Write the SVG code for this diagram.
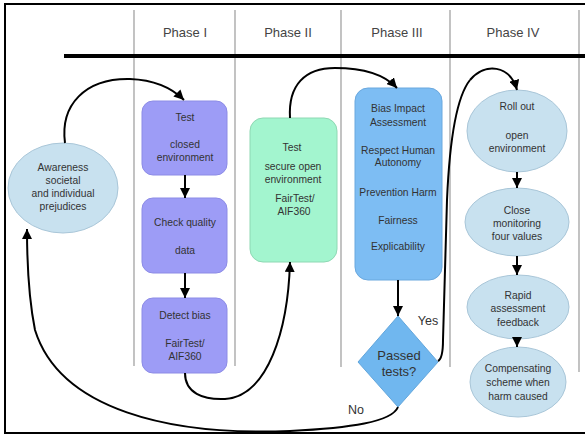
<svg xmlns="http://www.w3.org/2000/svg" width="585" height="439" viewBox="0 0 585 439">
<defs>
<style>
.lane{stroke:#9a9a9a;stroke-width:1.2;fill:none}
.hdr{font-family:"Liberation Sans",Arial,sans-serif;font-size:13px;fill:#444;text-anchor:middle}
.t{font-family:"Liberation Sans",Arial,sans-serif;font-size:10.3px;fill:#333;text-anchor:middle}
.purple{fill:#9d9cf6;stroke:#8c8be6;stroke-width:1}
.green{fill:#a3f5cf;stroke:#8ed8b3;stroke-width:1}
.blue{fill:#7dbdf3;stroke:#6aa8de;stroke-width:1}
.ell{fill:#c8e1ef;stroke:#a9c6d8;stroke-width:1}
.conn{fill:none;stroke:#000;stroke-width:2}
</style>
<marker id="ah" viewBox="0 0 10 10" refX="10" refY="5" markerWidth="5" markerHeight="5" orient="auto" markerUnits="strokeWidth">
<path d="M0,0 L10,5 L0,10 z" fill="#000"/>
</marker>
</defs>
<rect x="0" y="0" width="585" height="439" fill="#fff"/>
<rect x="5" y="4" width="600" height="429" fill="none" stroke="#000" stroke-width="2"/>
<g id="lanes">
<line class="lane" x1="134" y1="10" x2="134" y2="366"/>
<line class="lane" x1="235" y1="10" x2="235" y2="366"/>
<line class="lane" x1="341" y1="10" x2="341" y2="367"/>
<line class="lane" x1="450" y1="10" x2="450" y2="367"/>
<line class="lane" x1="579" y1="10" x2="579" y2="372"/>
<line x1="64" y1="56" x2="585" y2="56" stroke="#000" stroke-width="4"/>
<text class="hdr" x="185" y="37">Phase I</text>
<text class="hdr" x="288" y="37">Phase II</text>
<text class="hdr" x="397" y="37">Phase III</text>
<text class="hdr" x="513" y="37">Phase IV</text>
</g>
<g id="awareness">
<ellipse class="ell" cx="63" cy="188" rx="55" ry="45"/>
<text class="t" x="63" y="171">Awareness</text>
<text class="t" x="63" y="184">societal</text>
<text class="t" x="63" y="197">and individual</text>
<text class="t" x="63" y="210">prejudices</text>
</g>
<g id="test-closed">
<rect class="purple" x="142" y="101" width="85" height="74" rx="11"/>
<text class="t" x="185" y="121">Test</text>
<text class="t" x="185" y="148">closed</text>
<text class="t" x="185" y="161">environment</text>
</g>
<g id="check-quality">
<rect class="purple" x="142" y="198" width="85" height="75" rx="11"/>
<text class="t" x="185" y="226">Check quality</text>
<text class="t" x="185" y="254">data</text>
</g>
<g id="detect-bias">
<rect class="purple" x="142" y="298" width="85" height="75" rx="11"/>
<text class="t" x="185" y="319">Detect bias</text>
<text class="t" x="185" y="347">FairTest/</text>
<text class="t" x="185" y="360">AIF360</text>
</g>
<g id="test-secure">
<rect class="green" x="250" y="118" width="87" height="144" rx="13"/>
<text class="t" x="292" y="151">Test</text>
<text class="t" x="293" y="170">secure  open</text>
<text class="t" x="293" y="183">environment</text>
<text class="t" x="295" y="202">FairTest/</text>
<text class="t" x="294" y="215">AIF360</text>
</g>
<g id="bias-impact">
<rect class="blue" x="355" y="88" width="87" height="192" rx="13"/>
<text class="t" x="398" y="112">Bias Impact</text>
<text class="t" x="398" y="126">Assessment</text>
<text class="t" x="398" y="154">Respect Human</text>
<text class="t" x="398" y="166">Autonomy</text>
<text class="t" x="398" y="196">Prevention Harm</text>
<text class="t" x="398" y="224">Fairness</text>
<text class="t" x="398" y="250">Explicability</text>
</g>
<g id="passed-tests">
<polygon points="398,316 438,362 398,407 358,362" fill="#70b7ef" stroke="#62a6dc" stroke-width="1"/>
<text class="t" x="399" y="360" style="font-size:13px">Passed</text>
<text class="t" x="399" y="376" style="font-size:13px">tests?</text>
</g>
<g id="roll-out">
<ellipse class="ell" cx="517" cy="131" rx="50" ry="41"/>
<text class="t" x="517" y="110">Roll out</text>
<text class="t" x="517" y="139">open</text>
<text class="t" x="517" y="152">environment</text>
</g>
<g id="close-monitoring">
<ellipse class="ell" cx="517" cy="222" rx="52" ry="34"/>
<text class="t" x="517" y="214">Close</text>
<text class="t" x="517" y="227">monitoring</text>
<text class="t" x="517" y="240">four  values</text>
</g>
<g id="rapid">
<ellipse class="ell" cx="518" cy="307" rx="51" ry="32"/>
<text class="t" x="518" y="299">Rapid</text>
<text class="t" x="518" y="312">assessment</text>
<text class="t" x="518" y="326">feedback</text>
</g>
<g id="compensating">
<ellipse class="ell" cx="518" cy="382" rx="48" ry="35"/>
<text class="t" x="518" y="372">Compensating</text>
<text class="t" x="518" y="386">scheme  when</text>
<text class="t" x="518" y="400">harm  caused</text>
</g>
<g id="connectors">
<path class="conn" marker-end="url(#ah)" d="M65,143 C60,105 85,78 130,79 C155,80 172,88 184,100"/>
<path class="conn" marker-end="url(#ah)" d="M185,175 L185,198"/>
<path class="conn" marker-end="url(#ah)" d="M185,273 L185,298"/>
<path class="conn" marker-end="url(#ah)" d="M185,373 C185,393 203,400 225,399 C268,396 288,330 290,262"/>
<path class="conn" marker-end="url(#ah)" d="M290,118 C288,85 305,68 335,68 C365,68 385,75 397,88"/>
<path class="conn" marker-end="url(#ah)" d="M398,280 L398,316"/>
<path class="conn" d="M438,361 C442,359 443,352 443,340 L447,200 C450,130 458,95 470,80"/>
<path class="conn" marker-end="url(#ah)" d="M470,80 C485,62 510,65 517,90"/>
<path class="conn" marker-end="url(#ah)" d="M398,407 C392,422 350,428 290,431 C170,436 60,410 35,330 C29,300 27,262 27,229"/>
<path class="conn" marker-end="url(#ah)" d="M517,172 L517,188"/>
<path class="conn" marker-end="url(#ah)" d="M517,256 L517,275"/>
<path class="conn" marker-end="url(#ah)" d="M517,339 L517,347"/>
<text class="t" x="428" y="325" style="font-size:12.5px">Yes</text>
<text class="t" x="356" y="414" style="font-size:12.5px">No</text>
</g>
</svg>
